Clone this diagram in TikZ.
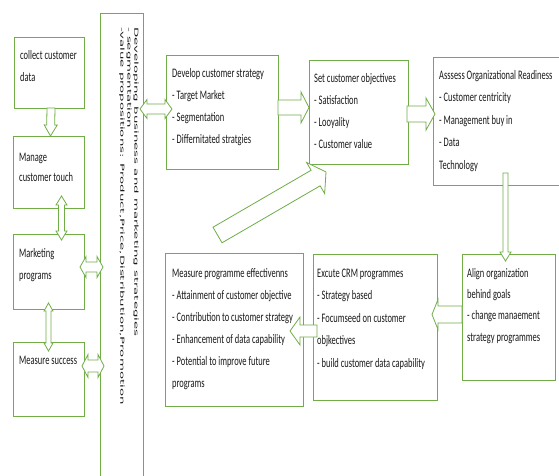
\documentclass[tikz,border=0pt]{standalone}
\usepackage{fontspec}
\usetikzlibrary{calc,fit}
\newfontfamily\boxfont[FakeStretch=0.65]{Carlito}
\newfontfamily\vertfont[FakeStretch=2.42]{DejaVu Sans}
\definecolor{grn}{RGB}{112,173,71}
\definecolor{ink}{RGB}{25,25,25}
\newcommand\tstrut{\rule{0pt}{9pt}}
\newcommand\blockarrow[5]{%
  \coordinate (bA) at (#1);
  \coordinate (bB) at (#2);
  \coordinate (bH) at ($(bB)!#5!(bA)$);
  \draw[barrow] ($(bA)!#3!90:(bB)$) -- ($(bH)!#3!90:(bB)$) -- ($(bH)!#4!90:(bB)$) -- (bB)
     -- ($(bH)!#4!-90:(bB)$) -- ($(bH)!#3!-90:(bB)$) -- ($(bA)!#3!-90:(bB)$) -- cycle;}
\newcommand\dblarrow[5]{%
  \coordinate (bA) at (#1);
  \coordinate (bB) at (#2);
  \coordinate (bH) at ($(bB)!#5!(bA)$);
  \coordinate (bG) at ($(bA)!#5!(bB)$);
  \draw[barrow] (bA) -- ($(bG)!#4!90:(bB)$) -- ($(bG)!#3!90:(bB)$) -- ($(bH)!#3!90:(bB)$)
     -- ($(bH)!#4!90:(bB)$) -- (bB) -- ($(bH)!#4!-90:(bB)$) -- ($(bH)!#3!-90:(bB)$)
     -- ($(bG)!#3!-90:(bB)$) -- ($(bG)!#4!-90:(bB)$) -- cycle;}
\begin{document}
\begin{tikzpicture}[x=1pt,y=-1pt,
  box/.style={draw=grn,line width=0.8pt,inner sep=0pt,outer sep=0pt},
  barrow/.style={draw=grn,fill=white,line width=0.8pt,line join=miter},
  txt/.style={font=\boxfont\fontsize{13}{22}\selectfont,align=left,inner sep=0pt,text=ink,anchor=north west},
  vtxt/.style={font=\vertfont\fontsize{5.5}{7.0}\selectfont,align=left,inner sep=0pt,outer sep=0pt,text=ink}]
\fill[white] (0,0) rectangle (559,475);
\useasboundingbox (0,0) rectangle (559,475);
% boxes
\node[box,fit={(14,37) (84,108)}] (collect) {};
\node[box,fit={(13,136) (84,208)}] (manage) {};
\node[box,fit={(13,234) (84,309)}] (mkt) {};
\node[box,fit={(13,342) (84,416)}] (meas) {};
\node[box,fit={(100,13) (143,485)}] (tall) {};
\node[box,fit={(166,55) (278,169)}] (dev) {};
\node[box,fit={(309,60) (408,164)}] (set) {};
\node[box,fit={(433,57) (563,185)}] (assess) {};
\node[box,fit={(462,254) (555,380)}] (align) {};
\node[box,fit={(313,254) (437,400)}] (exc) {};
\node[box,fit={(165,253) (303,406)}] (mprog) {};
% texts
\node[txt] (collectt) at (20,50) {\tstrut collect customer\\data};
\node[txt] (managet) at (19,152) {\tstrut Manage\\[-2pt]customer touch};
\node[txt] (mktt) at (19,248) {\tstrut Marketing\\programs};
\node[txt] (meast) at (19,355) {\tstrut Measure success};
\node[vtxt,rotate=-90,anchor=north west] (tallt) at (138.5,27)
  {Developing business and marketing strategies\\- segmentation\\-value propositions: Product,Price,Distribution,Promotion};
\node[txt] (devt) at (172,68) {\tstrut Develop customer strategy\\- Target Market\\- Segmentation\\- Differnitated stratgies};
\node[txt] (sett) at (314,73) {\tstrut Set customer objectives\\- Satisfaction\\- Looyality\\- Customer value};
\node[txt,font=\boxfont\fontsize{13}{22.5}\selectfont] (assesst) at (439,70) {\tstrut Asssess Organizational Readiness\\- Customer centricity\\- Management buy in\\- Data\\Technology};
\node[txt,font=\boxfont\fontsize{13}{21.3}\selectfont] (alignt) at (467,268) {\tstrut Align organization\\behind goals\\- change manaement\\strategy programmes};
\node[txt,font=\boxfont\fontsize{13}{22.5}\selectfont] (exct) at (317,268) {\tstrut Excute CRM programmes\\- Strategy based\\- Focumseed on customer\\objkectives\\- build customer data capability};
\node[txt] (mprogt) at (172,268) {\tstrut Measure programme effectivenns\\- Attainment of customer objective\\- Contribution to customer strategy\\- Enhancement of data capability\\- Potential to improve future\\programs};
% arrows
\blockarrow{[xshift=2pt]collect.south}{[xshift=2pt]manage.north}{4pt}{6.5pt}{11pt}
\dblarrow{[xshift=13pt,yshift=12pt]manage.south}{[xshift=13pt,yshift=-6pt]mkt.north}{3pt}{5.5pt}{9pt}
\dblarrow{[yshift=6pt]mkt.south}{[yshift=-9pt]meas.north}{2.5pt}{4.5pt}{8pt}
\coordinate (a4s) at ([xshift=-4pt,yshift=4.5pt]mkt.east);
\dblarrow{a4s}{$(a4s -| tall.west)+(3,0)$}{5pt}{10.5pt}{6pt}
\coordinate (a5s) at ([xshift=-2pt,yshift=13pt]meas.east);
\dblarrow{a5s}{$(a5s -| tall.west)+(4,0)$}{6pt}{11.5pt}{6pt}
\coordinate (a6s) at ($(tall.east |- dev.west)+(-3,-3)$);
\dblarrow{a6s}{[xshift=6pt,yshift=3pt]dev.west}{5pt}{9.5pt}{7pt}
\coordinate (a7s) at ([yshift=4.5pt]dev.east);
\blockarrow{a7s}{a7s -| set.west}{7.5pt}{15.5pt}{8pt}
\coordinate (a8s) at ([xshift=-1pt,yshift=-2pt]set.east);
\blockarrow{a8s}{$(a8s -| assess.west)+(2,0)$}{8pt}{16pt}{9pt}
\coordinate (a9s) at ($(assess.south -| align.north)+(-3,-12)$);
\blockarrow{a9s}{$(align.north)+(-3,7)$}{2.5pt}{5.5pt}{9pt}
\coordinate (a10s) at ([yshift=2.5pt]align.west);
\blockarrow{a10s}{$(a10s -| exc.east)+(-5,0)$}{8.5pt}{15pt}{6pt}
\coordinate (a11s) at ([xshift=4pt,yshift=-4pt]exc.west);
\blockarrow{a11s}{$(a11s -| mprog.east)+(-13,0)$}{6pt}{14pt}{10pt}
\coordinate (a12s) at (217.5,235);
\blockarrow{a12s}{$(set.south west)+(17,8)$}{9pt}{18pt}{12pt}
\end{tikzpicture}
\end{document}
